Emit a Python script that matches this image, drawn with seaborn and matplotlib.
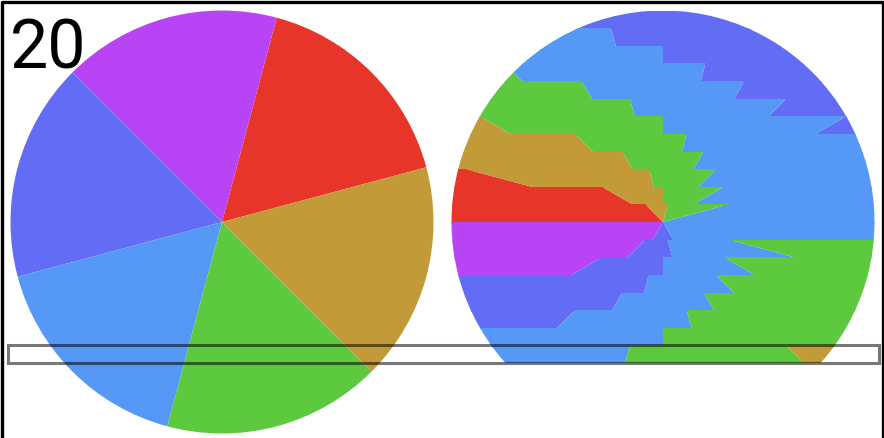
import matplotlib
matplotlib.use("Agg")

import matplotlib.pyplot as plt
import seaborn as sns
from matplotlib.lines import Line2D
from matplotlib.patches import Rectangle
from matplotlib.transforms import blended_transform_factory

# ── data ────────────────────────────────────────────────────────────────────
# six equal slices, listed counter-clockwise from the start angle
slice_values = [1, 1, 1, 1, 1, 1]
slice_names = ["red", "purple", "indigo", "blue", "green", "tan"]
slice_colors = ["#E8352A", "#B844F6", "#636CF4", "#5598F5", "#5CC93F", "#C39A38"]

# start angle of the pie at each frame; one horizontal stripe per frame
frame_angles = [300, 285, 270, 255, 240, 225, 210, 195, 180, 165,
                150, 135, 120, 105, 90, 75, 60, 45, 30, 15]
frame_label = "20"
n_stripes = 24  # the circle is cut into 24 horizontal stripes

# ── layout (pixels) ─────────────────────────────────────────────────────────
W, H = 884, 438
R = 211.5
CY = 222.0  # centre on a whole pixel so the middle stripe edge is clean
LEFT_CX, RIGHT_CX = 222.0, 663.0

sns.set_theme(style="white")
palette = sns.color_palette(slice_colors)

fig = plt.figure(figsize=(W / 100, H / 100), dpi=100)
fig.patch.set_facecolor("white")


def pie_axes(cx):
    return fig.add_axes([(cx - R) / W, (H - CY - R) / H, 2 * R / W, 2 * R / H])


def finish(ax):
    ax.set_xlim(-1, 1)
    ax.set_ylim(-1, 1)
    ax.set_aspect("equal")
    ax.axis("off")


# left: the pie at the current frame
ax_left = pie_axes(LEFT_CX)
ax_left.pie(slice_values, colors=palette, startangle=frame_angles[-1],
            radius=1, wedgeprops=dict(linewidth=0))
finish(ax_left)

# right: history, each frame's pie shown only inside its own stripe
ax_right = pie_axes(RIGHT_CX)
h = 2.0 / n_stripes
pad = 0.008  # stripe runs a bit under the next one, so no seams show
for i, angle in enumerate(frame_angles):
    wedges, _ = ax_right.pie(slice_values, colors=palette, startangle=angle,
                             radius=1, wedgeprops=dict(linewidth=0))
    last = i == len(frame_angles) - 1
    extra = 0 if last else pad
    clip = Rectangle((-1.05, 1 - (i + 1) * h - extra), 2.1, h + extra,
                     transform=ax_right.transData)
    for w in wedges:
        w.set_clip_on(True)
        w.set_clip_path(clip)
finish(ax_right)

# highlight of the current stripe across both panels
stripe = len(frame_angles) - 1
trans = blended_transform_factory(fig.transFigure, ax_left.transData)
fig.add_artist(Rectangle((8 / W, 1 - (stripe + 1) * h), (878.5 - 8) / W, h,
                         transform=trans, fill=False, edgecolor="black",
                         alpha=0.53, linewidth=2.2, zorder=5))

# frame counter
fig.text(10 / W, (H - 68.3) / H, frame_label, fontsize=49, family="Roboto",
         ha="left", va="baseline", color="black")

# black border on top, left and right
fig.add_artist(Line2D([1.5 / W, 1.5 / W, 882.5 / W, 882.5 / W],
                      [0, 1 - 1.5 / H, 1 - 1.5 / H, 0],
                      transform=fig.transFigure, color="black", linewidth=2.4))

fig.savefig("out.png", dpi=100)
